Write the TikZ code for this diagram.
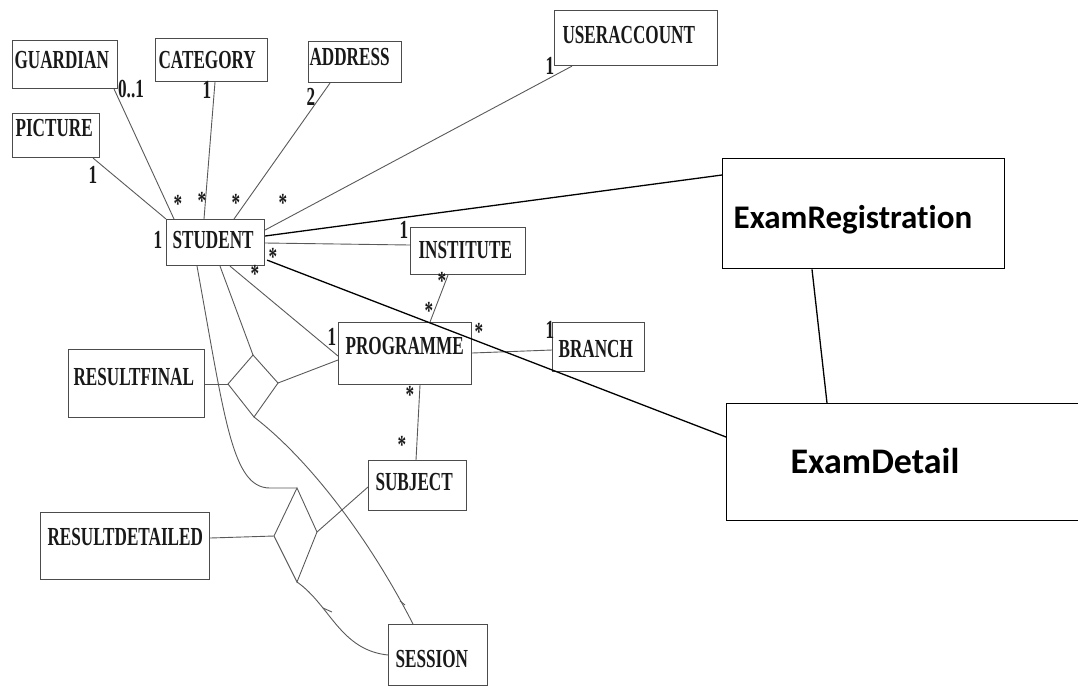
\documentclass[tikz,border=0pt]{standalone}
\usepackage{fontspec}
\setmainfont{Liberation Serif}
\newfontfamily\entfont{Liberation Serif}[FakeStretch=0.66]
\newfontfamily\examfont{Carlito}[Ligatures=NoCommon]
\usetikzlibrary{calc}

\definecolor{linegray}{gray}{0.35}
\definecolor{boxgray}{gray}{0.3}
\definecolor{textgray}{gray}{0.1}

\tikzset{
  entity/.style = {draw = boxgray, line width = 1.1pt, anchor = north west,
    inner sep = 0pt, align = left, text = textgray,
    font = \fontsize{26}{28}\entfont\bfseries},
  exam/.style = {draw = black, line width = 1.3pt, anchor = north west,
    inner sep = 0pt, align = left, font = \fontsize{33}{36}\examfont\bfseries},
  mult/.style = {inner sep = 0pt, anchor = base, text = textgray,
    font = \fontsize{26}{28}\entfont\bfseries},
  link/.style = {draw = linegray, line width = 0.9pt},
  examlink/.style = {draw = black, line width = 1.3pt},
}

\begin{document}
\begin{tikzpicture}[x = 1pt, y = -1pt]
  \useasboundingbox (0, 0) rectangle (1078, 689);
  % entities
  \node[entity, text width = 105pt, text height = 28pt, text depth = 20pt] (guardian) at (12, 40) {\hspace*{2pt}GUARDIAN};
  \node[entity, text width = 112pt, text height = 30pt, text depth = 13pt] (category) at (155, 38) {\hspace*{3pt}CATEGORY};
  \node[entity, text width = 93pt, text height = 24pt, text depth = 17pt] (address) at (308, 41) {\hspace*{1pt}ADDRESS};
  \node[entity, text width = 87pt, text height = 23pt, text depth = 21pt] (picture) at (12, 113) {\hspace*{3pt}PICTURE};
  \node[entity, text width = 163pt, text height = 33pt, text depth = 22pt] (useraccount) at (554, 10) {\hspace*{8pt}USERACCOUNT};
  \node[entity, text width = 98pt, text height = 29pt, text depth = 17pt] (student) at (166, 219) {\hspace*{6pt}STUDENT};
  \node[entity, text width = 115pt, text height = 31pt, text depth = 16pt] (institute) at (410, 227) {\hspace*{8pt}INSTITUTE};
  \node[entity, text width = 133pt, text height = 32pt, text depth = 30pt] (programme) at (338, 322) {\hspace*{7pt}PROGRAMME};
  \node[entity, text width = 92pt, text height = 35pt, text depth = 14pt] (branch) at (552, 322) {\hspace*{6pt}BRANCH};
  \node[entity, text width = 136pt, text height = 36pt, text depth = 32pt] (resultfinal) at (68, 349) {\hspace*{5pt}RESULTFINAL};
  \node[entity, text width = 98pt, text height = 30pt, text depth = 20pt] (subject) at (368, 460) {\hspace*{7pt}SUBJECT};
  \node[entity, text width = 169pt, text height = 33pt, text depth = 34pt] (resultdetailed) at (40, 512) {\hspace*{7pt}RESULTDETAILED};
  \node[entity, text width = 99pt, text height = 43pt, text depth = 18pt] (session) at (388, 624) {\hspace*{7pt}SESSION};
  \node[exam, text width = 282pt, text height = 70pt, text depth = 40pt] (examreg) at (722, 158) {\hspace*{11pt}ExamRegistration};
  \node[exam, text width = 356pt, text height = 70pt, text depth = 47pt] (examdetail) at (726, 403) {\hspace*{64pt}\fontsize{36}{40}\selectfont ExamDetail};
  % associations of student
  \draw[link] ($(picture.south east) + (-7, 0)$) -- (student.north west);
  \draw[link] ($(guardian.south east) + (-4, 0)$) -- ($(student.north west) + (8, 0)$);
  \draw[link] ($(category.south west) + (60, 0)$) -- ($(student.north west) + (38, 0)$);
  \draw[link] ($(address.south west) + (22, 0)$) -- ($(student.north west) + (68, 0)$);
  \draw[link] ($(useraccount.south west) + (18, 0)$) -- ($(student.north east) + (0, 11)$);
  \draw[link] ($(student.north east) + (0, 24)$) -- ($(institute.north west) + (0, 18)$);
  \draw[link] ($(student.south west) + (64, 0)$) -- ($(programme.north west) + (0, 34)$);
  \draw[link] ($(institute.south west) + (38, 0)$) -- ($(programme.north west) + (92, 0)$);
  \draw[link] ($(programme.north east) + (0, 31)$) -- ($(branch.north west) + (0, 28)$);
  \draw[link] ($(programme.south west) + (82, 0)$) -- ($(subject.north west) + (48, 0)$);
  % exam links
  \draw[examlink] ($(student.north east) + (0, 17)$) -- ($(examreg.north west) + (0, 17)$);
  \draw[examlink] ($(student.south east) + (2, -6)$) -- ($(examdetail.north west) + (0, 34)$);
  \draw[examlink] ($(examreg.south west) + (90, 0)$) -- ($(examdetail.north west) + (101, 0)$);
  % resultfinal association
  \coordinate (final l) at (228, 384);
  \coordinate (final t) at (253, 355);
  \coordinate (final r) at (278, 383);
  \coordinate (final b) at (254, 417);
  \draw[link] (final l) -- (final t) -- (final r) -- (final b) -- cycle;
  \draw[link] ($(resultfinal.north east) + (0, 35)$) -- (final l);
  \draw[link] ($(student.south west) + (54, 0)$) -- (final t);
  \draw[link] (final r) -- ($(programme.north west) + (0, 38)$);
  \draw[link] (final b) .. controls (310, 460) and (370, 540) .. ($(session.north west) + (25, 0)$);
  % resultdetailed association
  \coordinate (detail t) at (297, 488);
  \coordinate (detail l) at (274, 536);
  \coordinate (detail r) at (317, 532);
  \coordinate (detail b) at (297, 582);
  \draw[link] (detail l) -- (detail t) -- (detail r) -- (detail b) -- cycle;
  \draw[link] ($(student.south west) + (31, 0)$) .. controls (225, 420) and (232, 488) .. (270, 488) -- (detail t);
  \draw[link] ($(resultdetailed.north east) + (0, 26)$) -- (detail l);
  \draw[link] (detail r) -- ($(subject.north west) + (0, 27)$);
  \draw[link] (detail b) .. controls (330, 605) and (340, 650) .. ($(session.north west) + (0, 31)$);
  \draw[link] (323, 608) -- (332, 612);
  \draw[link] (400, 601) -- (405, 605);
  % multiplicities
  \node[mult] (m guardian) at (131, 97) {0..1};
  \node[mult] (m category) at (207, 98) {1};
  \node[mult] (m address) at (311, 105) {2};
  \node[mult] (m picture) at (93, 183) {1};
  \node[mult] (m useraccount) at (550, 74) {1};
  \node[mult] (m student) at (158, 248) {1};
  \node[mult] (m institute) at (404, 238) {1};
  \node[mult] (m programme) at (332, 345) {1};
  \node[mult] (m branch) at (550, 338) {1};
  \foreach \x/\y in {178/212, 202/209, 236/211, 283/211, 273/265, 255/282,
      442/289, 429/319, 479/340, 410/403, 402/453}
    \node[mult] at (\x, \y) {*};
\end{tikzpicture}
\end{document}
